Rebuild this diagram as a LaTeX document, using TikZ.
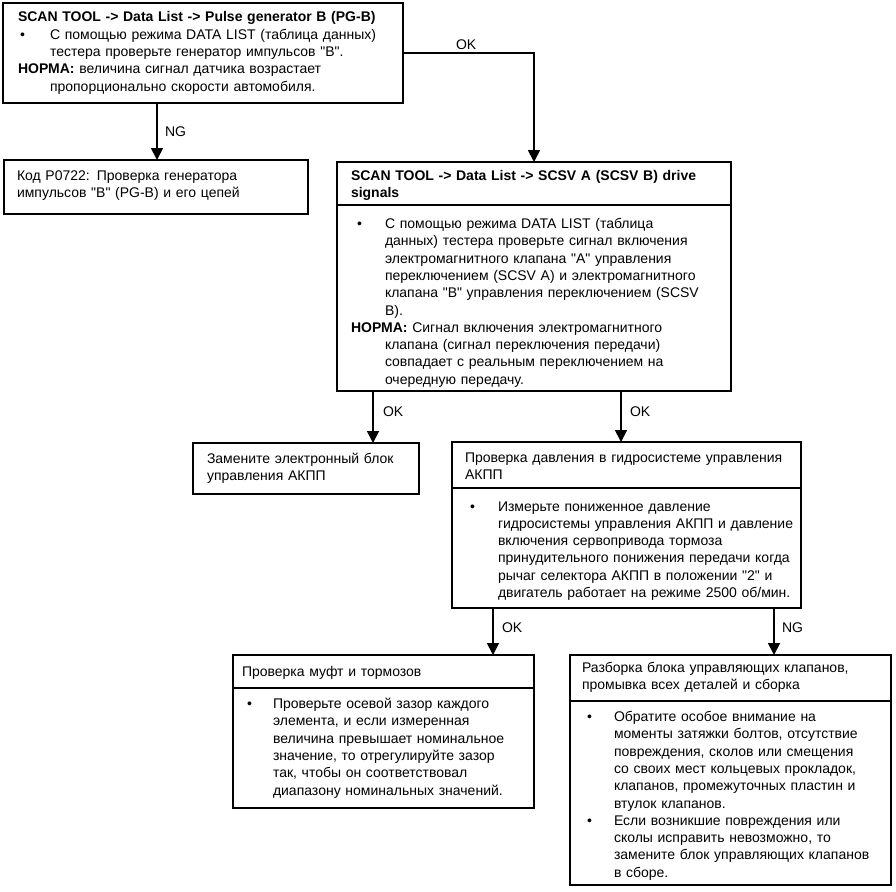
\documentclass[tikz,border=0pt]{standalone}
\usepackage{fontspec}
\setmainfont{Liberation Sans}[Ligatures=TeXOff]
\usetikzlibrary{arrows.meta}
\tikzset{
  x=1pt,y=-1pt,
  box/.style={draw, line width=2.6pt, anchor=north west, inner sep=0pt, outer sep=0pt},
  divline/.style={line width=1.8pt},
  conn/.style={line width=1.8pt, -{Triangle[width=12pt,length=12pt]}},
  txt/.style={anchor=base west, inner sep=0pt, outer sep=0pt, align=left, text width=430pt,
    font=\fontsize{14}{17.3}\selectfont},
  lbl/.style={anchor=base west, inner sep=0pt, outer sep=0pt, font=\fontsize{14}{17.3}\selectfont},
  bul/.style={anchor=base west, inner sep=0pt, outer sep=0pt, font=\fontsize{14}{17.3}\selectfont},
}
\newcommand{\boxat}[5]{\node[box, minimum width=#4pt-#2pt, minimum height=#5pt-#3pt] (#1) at (#2,#3) {};}
\begin{document}
\begin{tikzpicture}
\useasboundingbox[fill=white] (0,0) rectangle (896,891);
% boxes
\boxat{b1}{3}{3}{403}{103}
\boxat{b2}{4}{160}{308}{214}
\boxat{b3}{337}{162}{731}{391}
\boxat{b4}{193}{443}{419}{494}
\boxat{b5}{452}{442}{801}{608}
\boxat{b6}{233}{655}{534}{808}
\boxat{b7}{570}{655}{891}{885}
% dividers
\coordinate (d3) at (0,205);
\coordinate (d5) at (0,488);
\coordinate (d6) at (0,688);
\coordinate (d7) at (0,701);
\draw[divline] (b3.west |- d3) -- (b3.east |- d3);
\draw[divline] (b5.west |- d5) -- (b5.east |- d5);
\draw[divline] (b6.west |- d6) -- (b6.east |- d6);
\draw[divline] (b7.west |- d7) -- (b7.east |- d7);
% connector x positions
\coordinate (c1) at (157,0);
\coordinate (c2) at (534,53);
\coordinate (c3) at (373,0);
\coordinate (c4) at (621,0);
\coordinate (c5) at (493,0);
\coordinate (c6) at (774,0);
\draw[conn] (c1 |- b1.south) -- (c1 |- b2.north);
\draw[conn] (b1.east |- c2) -- (c2) -- (c2 |- b3.north);
\draw[conn] (c3 |- b3.south) -- (c3 |- b4.north);
\draw[conn] (c4 |- b3.south) -- (c4 |- b5.north);
\draw[conn] (c5 |- b5.south) -- (c5 |- b6.north);
\draw[conn] (c6 |- b5.south) -- (c6 |- b7.north);
% labels
\node[lbl] (l1) at (165,136) {NG};
\node[lbl] (l2) at (456,49) {OK};
\node[lbl] (l3) at (383,416) {OK};
\node[lbl] (l4) at (630,416) {OK};
\node[lbl] (l5) at (502,632) {OK};
\node[lbl] (l6) at (782,632) {NG};
% box 1
\node[txt] (t1h) at (18,22) {\textbf{SCAN TOOL -> Data List -> Pulse generator B (PG-B)}};
\node[bul] (t1b) at (20,39.3) {•};
\node[txt] (t1a) at (50,39.3) {С помощью режима DATA LIST (таблица данных)\\тестера проверьте генератор импульсов "В".};
\node[txt] (t1n) at (18,73.9) {\textbf{НОРМА:} величина сигнал датчика возрастает};
\node[txt] (t1m) at (50,91.2) {пропорционально скорости автомобиля.};
% box 2
\node[txt] (t2) at (17,180) {Код P0722: Проверка генератора\\импульсов "В" (PG-B) и его цепей};
% box 3
\node[txt] (t3h) at (351,180) {\textbf{SCAN TOOL -> Data List -> SCSV A (SCSV B) drive}\\\textbf{signals}};
\node[bul] (t3b) at (357,228.5) {•};
\node[txt] (t3a) at (385,228.5) {С помощью режима DATA LIST (таблица\\данных) тестера проверьте сигнал включения\\электромагнитного клапана "А" управления\\переключением (SCSV A) и электромагнитного\\клапана "В" управления переключением (SCSV\\B).};
\node[txt] (t3n) at (351,332.3) {\textbf{НОРМА:} Сигнал включения электромагнитного};
\node[txt] (t3m) at (385,349.6) {клапана (сигнал переключения передачи)\\совпадает с реальным переключением на\\очередную передачу.};
% box 4
\node[txt] (t4) at (207,463) {Замените электронный блок\\управления АКПП};
% box 5
\node[txt] (t5h) at (465,462) {Проверка давления в гидросистеме управления\\АКПП};
\node[bul] (t5b) at (470,511) {•};
\node[txt] (t5a) at (498,511) {Измерьте пониженное давление\\гидросистемы управления АКПП и давление\\включения сервопривода тормоза\\принудительного понижения передачи когда\\рычаг селектора АКПП в положении "2" и\\двигатель работает на режиме 2500 об/мин.};
% box 6
\node[txt] (t6h) at (242,676) {Проверка муфт и тормозов};
\node[bul] (t6b) at (247,708.5) {•};
\node[txt] (t6a) at (273,708.5) {Проверьте осевой зазор каждого\\элемента, и если измеренная\\величина превышает номинальное\\значение, то отрегулируйте зазор\\так, чтобы он соответствовал\\диапазону номинальных значений.};
% box 7
\node[txt] (t7h) at (582,672.5) {Разборка блока управляющих клапанов,\\промывка всех деталей и сборка};
\node[bul] (t7b) at (587,721.5) {•};
\node[txt] (t7a) at (614,721.5) {Обратите особое внимание на\\моменты затяжки болтов, отсутствие\\повреждения, сколов или смещения\\со своих мест кольцевых прокладок,\\клапанов, промежуточных пластин и\\втулок клапанов.};
\node[bul] (t7c) at (587,825.3) {•};
\node[txt] (t7d) at (614,825.3) {Если возникшие повреждения или\\сколы исправить невозможно, то\\замените блок управляющих клапанов\\в сборе.};
\end{tikzpicture}
\end{document}
